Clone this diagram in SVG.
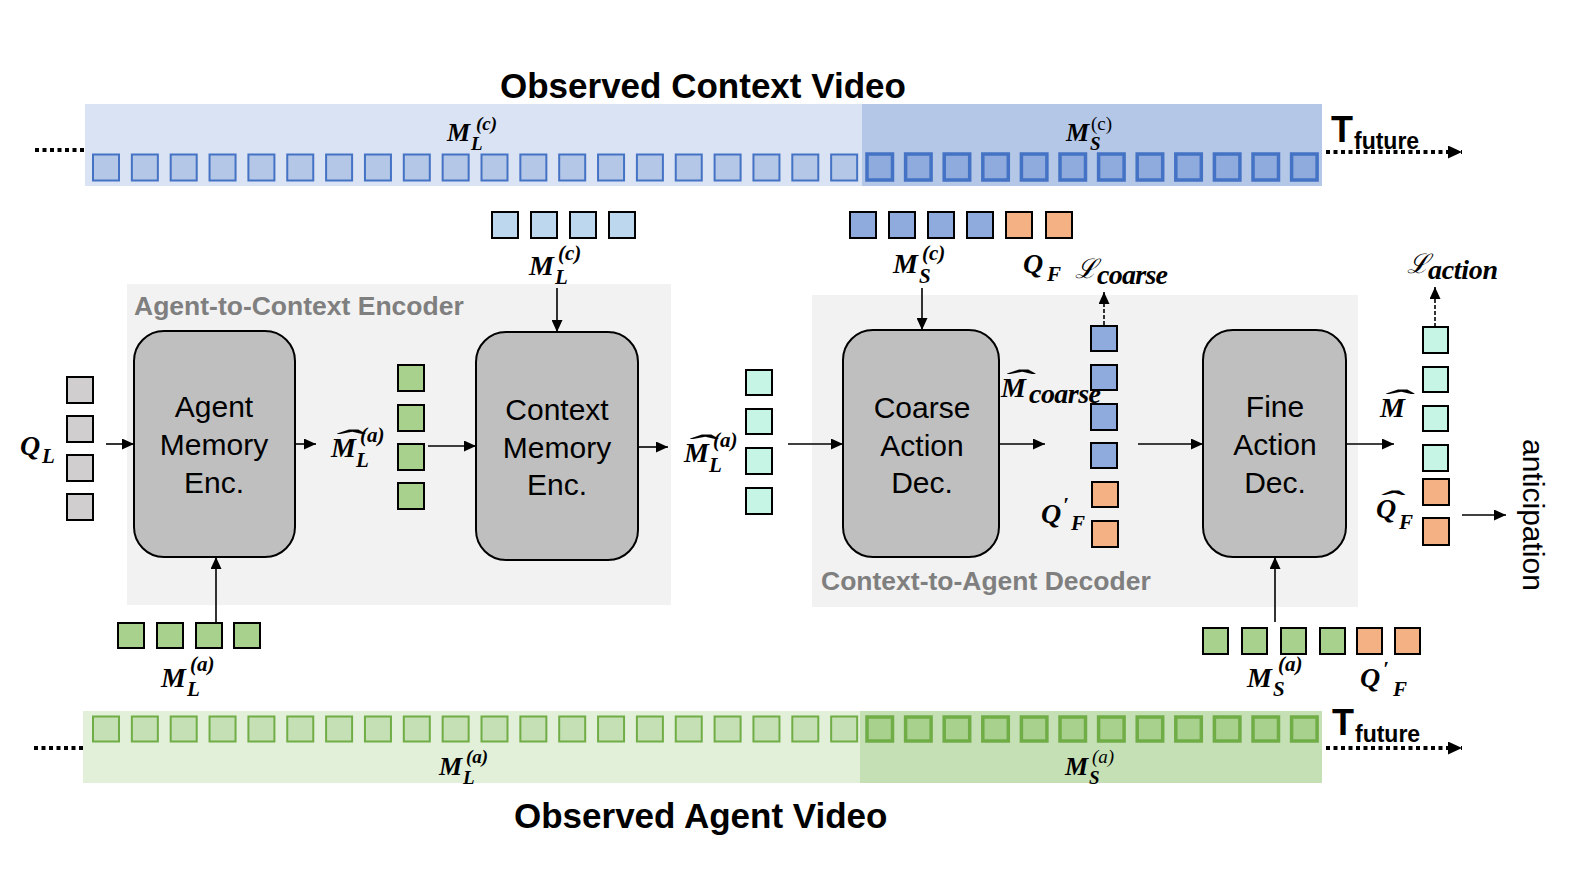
<svg xmlns="http://www.w3.org/2000/svg" width="1584" height="891" viewBox="0 0 1584 891">
<style>
.title{font-family:"Liberation Sans",Arial,sans-serif;font-weight:bold;font-size:35px;fill:#000}
.grp{font-family:"Liberation Sans",Arial,sans-serif;font-weight:bold;font-size:26.5px;fill:#7f7f7f}
.box{fill:#bfbfbf;stroke:#000;stroke-width:2}
.btxt{font-family:"Liberation Sans",Arial,sans-serif;font-size:30px;fill:#000;text-anchor:middle}
.mi{font-family:"Liberation Serif","DejaVu Serif",serif;font-weight:bold;font-style:italic;font-size:28px;fill:#000}
.ms{font-size:21px}
.mt{font-size:26px}
.mts{font-size:19px}
.mup{font-weight:normal;font-style:normal}
.mreg{font-weight:normal}
.cal{font-family:"DejaVu Serif",serif;font-style:italic;font-weight:normal;font-size:27px}
.tk{stroke:#000;stroke-width:2}
.lb{fill:#b4c7e7;stroke:#4472c4;stroke-width:2}
.db{fill:#8faadc;stroke:#4472c4;stroke-width:3.5}
.lg{fill:#c5e0b4;stroke:#70ad47;stroke-width:2}
.dg{fill:#a9d18e;stroke:#70ad47;stroke-width:3.5}
.gray{fill:#d0cece}
.green{fill:#a9d18e}
.lblue{fill:#bdd7ee}
.blue{fill:#8faadc}
.orange{fill:#f4b183}
.cyan{fill:#c6f5e5}
.arr{stroke:#000;stroke-width:1.6;fill:none;marker-end:url(#ah)}
.dash{stroke:#000;stroke-width:1.6;fill:none;stroke-dasharray:4 2;marker-end:url(#ah)}
.dot{stroke:#000;stroke-width:4;fill:none;stroke-dasharray:4 3.5}
.dota{stroke:#000;stroke-width:4;fill:none;stroke-dasharray:4 3.5;marker-end:url(#ahb)}
.tf{font-family:"Liberation Sans",Arial,sans-serif;font-weight:bold;fill:#000}
</style>
<defs>
<marker id="ah" viewBox="0 0 10 10" refX="10" refY="5" markerWidth="12" markerHeight="11" markerUnits="userSpaceOnUse" orient="auto" preserveAspectRatio="none"><path d="M0,0 L10,5 L0,10 z" fill="#000"/></marker>
<marker id="ahb" viewBox="0 0 10 10" refX="10" refY="5" markerWidth="14" markerHeight="13" markerUnits="userSpaceOnUse" orient="auto" preserveAspectRatio="none"><path d="M0,0 L10,5 L0,10 z" fill="#000"/></marker>
</defs>
<rect width="1584" height="891" fill="#fff"/>

<!-- Top band: Observed Context Video -->
<g id="context-video">
<text class="title" x="500" y="98">Observed Context Video</text>
<rect x="85" y="104" width="777" height="82" fill="#dae3f3"/>
<rect x="862" y="104" width="460" height="82" fill="#b4c7e7"/>
<g>
<rect class="lb" x="93" y="154.5" width="26" height="26"/>
<rect class="lb" x="131.85" y="154.5" width="26" height="26"/>
<rect class="lb" x="170.7" y="154.5" width="26" height="26"/>
<rect class="lb" x="209.55" y="154.5" width="26" height="26"/>
<rect class="lb" x="248.4" y="154.5" width="26" height="26"/>
<rect class="lb" x="287.25" y="154.5" width="26" height="26"/>
<rect class="lb" x="326.1" y="154.5" width="26" height="26"/>
<rect class="lb" x="364.95" y="154.5" width="26" height="26"/>
<rect class="lb" x="403.8" y="154.5" width="26" height="26"/>
<rect class="lb" x="442.65" y="154.5" width="26" height="26"/>
<rect class="lb" x="481.5" y="154.5" width="26" height="26"/>
<rect class="lb" x="520.35" y="154.5" width="26" height="26"/>
<rect class="lb" x="559.2" y="154.5" width="26" height="26"/>
<rect class="lb" x="598.05" y="154.5" width="26" height="26"/>
<rect class="lb" x="636.9" y="154.5" width="26" height="26"/>
<rect class="lb" x="675.75" y="154.5" width="26" height="26"/>
<rect class="lb" x="714.6" y="154.5" width="26" height="26"/>
<rect class="lb" x="753.45" y="154.5" width="26" height="26"/>
<rect class="lb" x="792.3" y="154.5" width="26" height="26"/>
<rect class="lb" x="831.15" y="154.5" width="26" height="26"/>
<rect class="db" x="867" y="154" width="25.5" height="26"/>
<rect class="db" x="905.6" y="154" width="25.5" height="26"/>
<rect class="db" x="944.2" y="154" width="25.5" height="26"/>
<rect class="db" x="982.8" y="154" width="25.5" height="26"/>
<rect class="db" x="1021.4" y="154" width="25.5" height="26"/>
<rect class="db" x="1060" y="154" width="25.5" height="26"/>
<rect class="db" x="1098.6" y="154" width="25.5" height="26"/>
<rect class="db" x="1137.2" y="154" width="25.5" height="26"/>
<rect class="db" x="1175.8" y="154" width="25.5" height="26"/>
<rect class="db" x="1214.4" y="154" width="25.5" height="26"/>
<rect class="db" x="1253" y="154" width="25.5" height="26"/>
<rect class="db" x="1291.6" y="154" width="25.5" height="26"/>
</g>
<text class="mi mt" x="447" y="141">M</text>
<text class="mi mts" x="471" y="150">L</text>
<text class="mi mts" x="476" y="130">(c)</text>
<text class="mi mt" x="1066" y="141">M</text>
<text class="mi mts" x="1090" y="150">S</text>
<text class="mi mts mup" x="1091" y="130">(c)</text>
<text class="tf" x="1331" y="142" font-size="36">T</text>
<text class="tf" x="1354" y="149" font-size="23">future</text>
</g>

<!-- Bottom band: Observed Agent Video -->
<g id="agent-video">
<rect x="83" y="711" width="777" height="72" fill="#e2f0d9"/>
<rect x="860" y="711" width="462" height="72" fill="#c5e0b4"/>
<g>
<rect class="lg" x="93" y="716.5" width="26" height="25"/>
<rect class="lg" x="131.85" y="716.5" width="26" height="25"/>
<rect class="lg" x="170.7" y="716.5" width="26" height="25"/>
<rect class="lg" x="209.55" y="716.5" width="26" height="25"/>
<rect class="lg" x="248.4" y="716.5" width="26" height="25"/>
<rect class="lg" x="287.25" y="716.5" width="26" height="25"/>
<rect class="lg" x="326.1" y="716.5" width="26" height="25"/>
<rect class="lg" x="364.95" y="716.5" width="26" height="25"/>
<rect class="lg" x="403.8" y="716.5" width="26" height="25"/>
<rect class="lg" x="442.65" y="716.5" width="26" height="25"/>
<rect class="lg" x="481.5" y="716.5" width="26" height="25"/>
<rect class="lg" x="520.35" y="716.5" width="26" height="25"/>
<rect class="lg" x="559.2" y="716.5" width="26" height="25"/>
<rect class="lg" x="598.05" y="716.5" width="26" height="25"/>
<rect class="lg" x="636.9" y="716.5" width="26" height="25"/>
<rect class="lg" x="675.75" y="716.5" width="26" height="25"/>
<rect class="lg" x="714.6" y="716.5" width="26" height="25"/>
<rect class="lg" x="753.45" y="716.5" width="26" height="25"/>
<rect class="lg" x="792.3" y="716.5" width="26" height="25"/>
<rect class="lg" x="831.15" y="716.5" width="26" height="25"/>
<rect class="dg" x="867" y="717" width="25.5" height="24"/>
<rect class="dg" x="905.6" y="717" width="25.5" height="24"/>
<rect class="dg" x="944.2" y="717" width="25.5" height="24"/>
<rect class="dg" x="982.8" y="717" width="25.5" height="24"/>
<rect class="dg" x="1021.4" y="717" width="25.5" height="24"/>
<rect class="dg" x="1060" y="717" width="25.5" height="24"/>
<rect class="dg" x="1098.6" y="717" width="25.5" height="24"/>
<rect class="dg" x="1137.2" y="717" width="25.5" height="24"/>
<rect class="dg" x="1175.8" y="717" width="25.5" height="24"/>
<rect class="dg" x="1214.4" y="717" width="25.5" height="24"/>
<rect class="dg" x="1253" y="717" width="25.5" height="24"/>
<rect class="dg" x="1291.6" y="717" width="25.5" height="24"/>
</g>
<text class="mi mt" x="439" y="775">M</text>
<text class="mi mts" x="463" y="784">L</text>
<text class="mi mts" x="466" y="763">(a)</text>
<text class="mi mt" x="1065" y="775">M</text>
<text class="mi mts" x="1089" y="784">S</text>
<text class="mi mts mreg" x="1092" y="763">(a)</text>
<text class="tf" x="1332" y="735" font-size="36">T</text>
<text class="tf" x="1355" y="742" font-size="23">future</text>
<text class="title" x="514" y="828">Observed Agent Video</text>
</g>

<!-- Group containers -->
<g id="agent-to-context-encoder">
<rect x="127" y="284" width="544" height="321" fill="#f2f2f2"/>
<text class="grp" x="134" y="315">Agent-to-Context Encoder</text>
</g>
<g id="context-to-agent-decoder">
<rect x="812" y="295" width="546" height="312" fill="#f2f2f2"/>
<text class="grp" x="821" y="590">Context-to-Agent Decoder</text>
</g>

<!-- Q_L tokens -->
<g id="q-l">
<rect class="gray tk" x="67" y="377" width="26" height="26"/>
<rect class="gray tk" x="67" y="416" width="26" height="26"/>
<rect class="gray tk" x="67" y="455" width="26" height="26"/>
<rect class="gray tk" x="67" y="494" width="26" height="26"/>
<text class="mi" x="20" y="455">Q</text>
<text class="mi ms" x="42" y="463">L</text>
</g>

<!-- Agent Memory Enc -->
<g id="agent-memory-enc">
<rect class="box" x="134" y="331" width="161" height="226" rx="30"/>
<text class="btxt" x="214" y="417">Agent</text>
<text class="btxt" x="214" y="455">Memory</text>
<text class="btxt" x="214" y="493">Enc.</text>
</g>

<!-- M_L^(a) input tokens bottom left -->
<g id="m-l-a-in">
<rect class="green tk" x="118" y="623" width="26" height="25"/>
<rect class="green tk" x="157" y="623" width="26" height="25"/>
<rect class="green tk" x="196" y="623" width="26" height="25"/>
<rect class="green tk" x="234" y="623" width="26" height="25"/>
<text class="mi" x="161" y="687">M</text>
<text class="mi ms" x="187" y="696">L</text>
<text class="mi ms" x="190" y="671">(a)</text>
</g>

<!-- hat M_L^(a) green column -->
<g id="m-hat-l-a-green">
<rect class="green tk" x="398" y="365" width="26" height="26"/>
<rect class="green tk" x="398" y="405" width="26" height="26"/>
<rect class="green tk" x="398" y="444" width="26" height="26"/>
<rect class="green tk" x="398" y="483" width="26" height="26"/>
<text class="mi" x="331" y="457">M</text>
<text class="mi" transform="translate(347,449) scale(3.2,1)" text-anchor="middle">ˆ</text>
<text class="mi ms" x="356" y="467">L</text>
<text class="mi ms" x="360" y="442">(a)</text>
</g>

<!-- M_L^(c) tokens above Context -->
<g id="m-l-c-in">
<rect class="lblue tk" x="492" y="212" width="26" height="26"/>
<rect class="lblue tk" x="531" y="212" width="26" height="26"/>
<rect class="lblue tk" x="570" y="212" width="26" height="26"/>
<rect class="lblue tk" x="609" y="212" width="26" height="26"/>
<text class="mi" x="529" y="275">M</text>
<text class="mi ms" x="555" y="284">L</text>
<text class="mi ms" x="558" y="260">(c)</text>
</g>

<!-- Context Memory Enc -->
<g id="context-memory-enc">
<rect class="box" x="476" y="332" width="162" height="228" rx="30"/>
<text class="btxt" x="557" y="420">Context</text>
<text class="btxt" x="557" y="458">Memory</text>
<text class="btxt" x="557" y="495">Enc.</text>
</g>

<!-- hat M_L^(a) cyan column -->
<g id="m-hat-l-a-cyan">
<rect class="cyan tk" x="746" y="370" width="26" height="25"/>
<rect class="cyan tk" x="746" y="409" width="26" height="25"/>
<rect class="cyan tk" x="746" y="448" width="26" height="26"/>
<rect class="cyan tk" x="746" y="488" width="26" height="26"/>
<text class="mi" x="684" y="462">M</text>
<text class="mi" transform="translate(700,454) scale(3.2,1)" text-anchor="middle">ˆ</text>
<text class="mi ms" x="709" y="472">L</text>
<text class="mi ms" x="713" y="447">(a)</text>
</g>

<!-- M_S^(c) + Q_F tokens above Coarse -->
<g id="m-s-c-q-f-in">
<rect class="blue tk" x="850" y="212" width="26" height="26"/>
<rect class="blue tk" x="889" y="212" width="26" height="26"/>
<rect class="blue tk" x="928" y="212" width="26" height="26"/>
<rect class="blue tk" x="967" y="212" width="26" height="26"/>
<rect class="orange tk" x="1006" y="212" width="26" height="26"/>
<rect class="orange tk" x="1046" y="212" width="26" height="26"/>
<text class="mi" x="893" y="273">M</text>
<text class="mi ms" x="919" y="283">S</text>
<text class="mi ms" x="922" y="260">(c)</text>
<text class="mi" x="1023" y="273">Q</text>
<text class="mi ms" x="1047" y="281">F</text>
</g>

<!-- Coarse Action Dec -->
<g id="coarse-action-dec">
<rect class="box" x="843" y="330" width="156" height="227" rx="30"/>
<text class="btxt" x="922" y="418">Coarse</text>
<text class="btxt" x="922" y="456">Action</text>
<text class="btxt" x="922" y="493">Dec.</text>
</g>

<!-- Coarse output column -->
<g id="m-coarse">
<rect class="blue tk" x="1091" y="326" width="26" height="25"/>
<rect class="blue tk" x="1091" y="365" width="26" height="25"/>
<rect class="blue tk" x="1091" y="404" width="26" height="26"/>
<rect class="blue tk" x="1091" y="443" width="26" height="25"/>
<rect class="orange tk" x="1092" y="482" width="26" height="25"/>
<rect class="orange tk" x="1092" y="521" width="26" height="26"/>
<text class="mi" x="1001" y="397">M</text>
<text class="mi" transform="translate(1017,389) scale(3.2,1)" text-anchor="middle">ˆ</text>
<text class="mi" x="1029" y="403" font-size="23" textLength="72" lengthAdjust="spacing">coarse</text>
<text class="mi" x="1041" y="523">Q</text>
<text class="mi ms" x="1063" y="512">′</text>
<text class="mi ms" x="1071" y="530">F</text>
</g>

<!-- L_coarse -->
<g id="l-coarse">
<text class="cal" x="1075" y="278">ℒ</text>
<text class="mi" x="1097" y="284" font-size="23" textLength="71" lengthAdjust="spacing">coarse</text>
</g>

<!-- Fine Action Dec -->
<g id="fine-action-dec">
<rect class="box" x="1203" y="330" width="143" height="227" rx="30"/>
<text class="btxt" x="1275" y="417">Fine</text>
<text class="btxt" x="1275" y="455">Action</text>
<text class="btxt" x="1275" y="493">Dec.</text>
</g>

<!-- M_S^(a) + Q'_F tokens below Fine -->
<g id="m-s-a-q-f-in">
<rect class="green tk" x="1203" y="628" width="25" height="26"/>
<rect class="green tk" x="1242" y="628" width="25" height="26"/>
<rect class="green tk" x="1281" y="628" width="25" height="26"/>
<rect class="green tk" x="1320" y="628" width="25" height="26"/>
<rect class="orange tk" x="1357" y="628" width="25" height="26"/>
<rect class="orange tk" x="1395" y="628" width="25" height="26"/>
<text class="mi" x="1247" y="687">M</text>
<text class="mi ms" x="1273" y="696">S</text>
<text class="mi ms" x="1278" y="671">(a)</text>
<text class="mi" x="1360" y="687">Q</text>
<text class="mi ms" x="1383" y="676">′</text>
<text class="mi ms" x="1393" y="696">F</text>
</g>

<!-- Output column -->
<g id="m-hat-out">
<rect class="cyan tk" x="1423" y="327" width="25" height="26"/>
<rect class="cyan tk" x="1423" y="367" width="25" height="25"/>
<rect class="cyan tk" x="1423" y="406" width="25" height="25"/>
<rect class="cyan tk" x="1423" y="445" width="25" height="26"/>
<rect class="orange tk" x="1423" y="479" width="26" height="26"/>
<rect class="orange tk" x="1423" y="518" width="26" height="27"/>
<text class="mi" x="1380" y="417">M</text>
<text class="mi" transform="translate(1396,409) scale(3.2,1)" text-anchor="middle">ˆ</text>
<text class="mi" x="1376" y="518">Q</text>
<text class="mi" transform="translate(1390,510) scale(2.6,1)" text-anchor="middle">ˆ</text>
<text class="mi ms" x="1399" y="529">F</text>
</g>

<!-- L_action -->
<g id="l-action">
<text class="cal" x="1407" y="273">ℒ</text>
<text class="mi" x="1428" y="279" font-size="23" textLength="70" lengthAdjust="spacing">action</text>
</g>

<g id="anticipation">
<text class="btxt" font-size="25" transform="translate(1523,515) rotate(90)">anticipation</text>
</g>

<!-- Connectors -->
<g id="connectors">
<path class="dot" d="M35,150 H85"/>
<path class="dota" d="M1326,152 H1462"/>
<path class="dot" d="M34,748 H83"/>
<path class="dota" d="M1326,748 H1462"/>
<path class="arr" d="M106,444 H134"/>
<path class="arr" d="M295,444 H316"/>
<path class="arr" d="M216,622 V557"/>
<path class="arr" d="M428,446 H476"/>
<path class="arr" d="M557,288 V332"/>
<path class="arr" d="M638,447 H668"/>
<path class="arr" d="M788,444 H843"/>
<path class="arr" d="M922,288 V330"/>
<path class="arr" d="M999,444 H1045"/>
<path class="dash" d="M1104,325 V292"/>
<path class="arr" d="M1138,444 H1203"/>
<path class="arr" d="M1346,444 H1394"/>
<path class="arr" d="M1275,622 V557"/>
<path class="dash" d="M1435,327 V287"/>
<path class="arr" d="M1462,515 H1506"/>
</g>
</svg>
